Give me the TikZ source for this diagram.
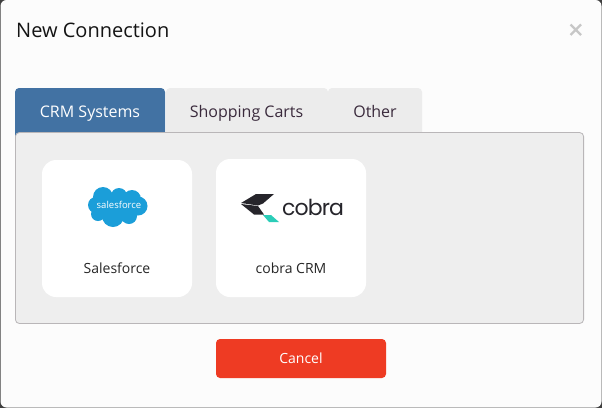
\documentclass[tikz,border=0pt]{standalone}
\usepackage{fontspec}
\setmainfont{Open Sans}
\newfontfamily\logofont{Poppins}
\definecolor{tabblue}{HTML}{4272A3}
\definecolor{tabgrey}{HTML}{ECECEC}
\definecolor{panelgrey}{HTML}{EEEEEE}
\definecolor{panelline}{HTML}{B9B6B8}
\definecolor{tabtext}{HTML}{3A2A3C}
\definecolor{cancelred}{HTML}{EE3B23}
\definecolor{sfblue}{HTML}{1B9ED9}
\definecolor{cobrateal}{HTML}{2BCDB8}
\definecolor{cobradark}{HTML}{26252B}
\tikzset{
  tabshape/.style={fill=tabgrey,rounded corners=4pt},
  tablabel/.style={text=tabtext,font=\fontsize{16}{18}\selectfont,inner sep=0pt,anchor=base},
  card/.style={fill=white,rounded corners=14pt},
  cardlabel/.style={text=black!85,font=\fontsize{14}{16}\selectfont,inner sep=0pt,anchor=base},
}
\begin{document}
\begin{tikzpicture}[x=1pt,y=-1pt]
\useasboundingbox (0,0) rectangle (602,408);
\fill[black!75] (0,0) rectangle (602,408);
\fill[fill=white!99!black,rounded corners=6pt] (0.5,0) rectangle (601.5,407.5);
\node[anchor=base west,inner sep=0pt,text=black!92,font=\fontsize{20}{24}\selectfont] (title) at (16,37) {New Connection};
\draw[black!22,line width=2.4pt] (570.5,24.5) -- (581,35) (581,24.5) -- (570.5,35);
% tabs
\fill[tabshape] (166,140) -- (166,88) -- (328,88) -- (328,140) -- cycle;
\fill[tabshape] (328,140) -- (328,88) -- (422,88) -- (422,140) -- cycle;
\fill[fill=tabblue,rounded corners=4pt] (15,140) -- (15,88) -- (165,88) -- (165,140) -- cycle;
% panel
\draw[fill=panelgrey,draw=panelline,line width=0.8pt,rounded corners=4pt] (15.4,132.5) rectangle (583.6,323.5);
\fill[tabblue] (15,128) rectangle (165,132);
\node[tablabel,text=white] (t1) at (90,117) {CRM Systems};
\node[tablabel] (t2) at (246.5,117) {Shopping Carts};
\node[tablabel] (t3) at (375,117) {Other};
% cards
\fill[card] (42,160) rectangle (192,297);
\fill[card] (216,159) rectangle (366,297);
\node[cardlabel] (l1) at (117,273) {Salesforce};
\node[cardlabel] (l2) at (291,273) {cobra CRM};
% salesforce cloud
\fill[sfblue] (103,197) circle (10) (119,196) circle (8) (132,199) circle (9) (138,206) circle (9.5)
  (129,216) circle (8) (113,216) circle (11) (98,214) circle (7) (96,205) circle (8) (117,206) ellipse (21 and 13);
\node[text=white,inner sep=0pt,font=\fontsize{9.5}{12}\selectfont] (sf) at (119,205) {salesforce};
% cobra logo
\fill[cobradark] (241,203) -- (256,194) -- (274,194) -- (263,203.5) -- (258,205.5) -- cycle;
\fill[cobradark] (241,204) -- (258,206) -- (264,214.5) -- (254,214.5) -- cycle;
\fill[cobrateal] (263,215) -- (271,215) -- (279,222) -- (269,222) -- cycle;
\node[anchor=base west,inner sep=0pt,text=cobradark,font=\logofont\fontsize{22}{26}\selectfont\addfontfeatures{LetterSpace=-4}] (cb) at (282,215) {cobra};
% cancel
\node[fill=cancelred,rounded corners=4pt,minimum width=170pt,minimum height=39pt,inner sep=0pt,text=white,font=\fontsize{14}{16}\selectfont] (cancel) at (301,358.5) {Cancel};
\end{tikzpicture}
\end{document}
